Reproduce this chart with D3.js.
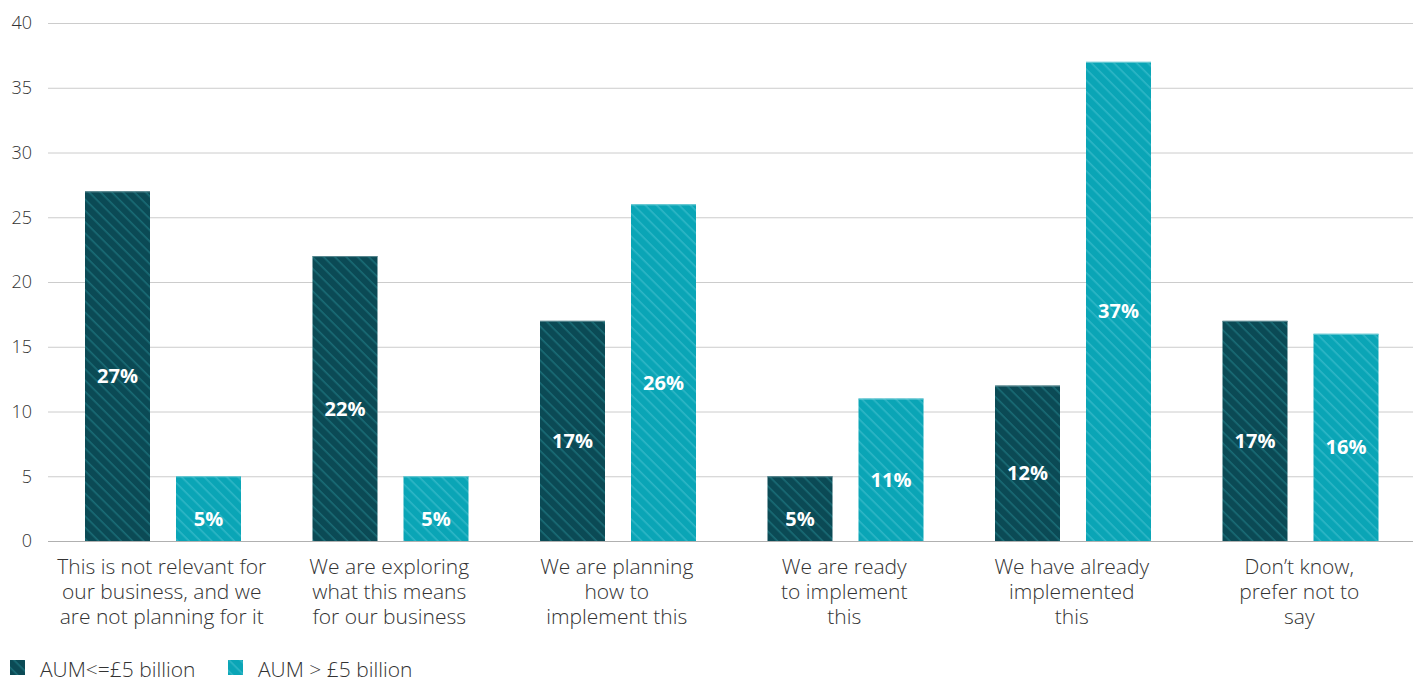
<!DOCTYPE html>
<html><head><meta charset="utf-8">
<script src="https://cdn.jsdelivr.net/npm/d3@7"></script>
<style>
body{margin:0;background:#fff;}
text{font-family:"Open Sans",sans-serif;}
</style></head>
<body><svg id="c" width="1418" height="680"></svg>
<script>
const categories = [
  ["This is not relevant for","our business, and we","are not planning for it"],
  ["We are exploring","what this means","for our business"],
  ["We are planning","how to","implement this"],
  ["We are ready","to implement","this"],
  ["We have already","implemented","this"],
  ["Don\u2019t know,","prefer not to","say"]
];
const seriesNames = ["AUM<=\u00a35 billion", "AUM > \u00a35 billion"];
const small = [27, 22, 17, 5, 12, 17];
const large = [5, 5, 26, 11, 37, 16];
const yTicks = [0, 5, 10, 15, 20, 25, 30, 35, 40];

const svg = d3.select("#c");
const m = {l:48, r:5, t:23, b:139};
const W = 1418, H = 680;
const x0 = d3.scaleBand().domain(d3.range(categories.length)).range([m.l, W - m.r]).paddingInner(0).paddingOuter(0);
const x1 = d3.scaleBand().domain([0,1]).range([37, 37+156]).paddingInner(26/91).paddingOuter(0);
const y = d3.scaleLinear().domain([0,40]).range([H - m.b, m.t]);

const defs = svg.append("defs");
function hatch(id, bg, fg){
  const p = defs.append("pattern").attr("id", id).attr("patternUnits","userSpaceOnUse")
    .attr("width", 8).attr("height", 8).attr("patternTransform","rotate(45)");
  p.append("rect").attr("width",8).attr("height",8).attr("fill",bg);
  p.append("rect").attr("x",0).attr("y",0).attr("width",8).attr("height",1.6).attr("fill",fg);
}
hatch("h0", "#0b4a55", "#1a6c76");
hatch("h1", "#0aa5b6", "#2fb6c6");

// grid
svg.append("g").selectAll("line").data(yTicks).join("line")
  .attr("x1", m.l).attr("x2", W - m.r)
  .attr("y1", d => y(d)+0.5).attr("y2", d => y(d)+0.5)
  .attr("stroke", d => d===0 ? "#b0b0b0" : "#cccccc").attr("stroke-width",1);

// y tick labels
svg.append("g").selectAll("text").data(yTicks).join("text")
  .attr("x", 32).attr("y", d => y(d)).attr("dy","0.35em")
  .attr("text-anchor","end").attr("font-size",18).attr("font-weight",300).attr("fill","#333")
  .text(d => d);

const data = [];
categories.forEach((c,i) => { data.push({i, s:0, v:small[i]}); data.push({i, s:1, v:large[i]}); });

const bars = svg.append("g");
bars.selectAll("rect").data(data).join("rect")
  .attr("x", d => x0(d.i) + x1(d.s))
  .attr("y", d => y(d.v))
  .attr("width", x1.bandwidth())
  .attr("height", d => y(0) - y(d.v))
  .attr("fill", d => `url(#h${d.s})`);
bars.selectAll("line").data(data).join("line")
  .attr("x1", d => x0(d.i) + x1(d.s)).attr("x2", d => x0(d.i) + x1(d.s) + x1.bandwidth())
  .attr("y1", d => y(d.v)+0.5).attr("y2", d => y(d.v)+0.5)
  .attr("stroke", d => d.s===0 ? "#5c8a92" : "#6fcbd5").attr("stroke-width",1);

svg.append("g").selectAll("text").data(data).join("text")
  .attr("x", d => x0(d.i) + x1(d.s) + x1.bandwidth()/2)
  .attr("y", d => (y(d.v) + y(0))/2 + 10)
  .attr("dy","0.35em")
  .attr("text-anchor","middle").attr("font-size",20).attr("font-weight",700).attr("fill","#fff")
  .text(d => d.v + "%");

// category labels
const cl = svg.append("g").selectAll("text").data(categories).join("text")
  .attr("text-anchor","middle").attr("font-size",21).attr("font-weight",300).attr("fill","#333");
cl.each(function(lines, i){
  const t = d3.select(this);
  lines.forEach((ln, k) => {
    t.append("tspan").attr("x", x0(i) + x0.bandwidth()/2).attr("y", 567 + k*25).attr("dy","0.35em").text(ln);
  });
});

// legend
const lg = svg.append("g");
const lx = [10, 228];
seriesNames.forEach((n, k) => {
  lg.append("rect").attr("x", lx[k]).attr("y", 660).attr("width", 15).attr("height", 15).attr("fill", `url(#h${k})`);
  lg.append("text").attr("x", lx[k] + 30).attr("y", 670).attr("dy","0.35em")
    .attr("font-size",21).attr("font-weight",300).attr("fill","#333").text(n);
});
</script></body></html>
